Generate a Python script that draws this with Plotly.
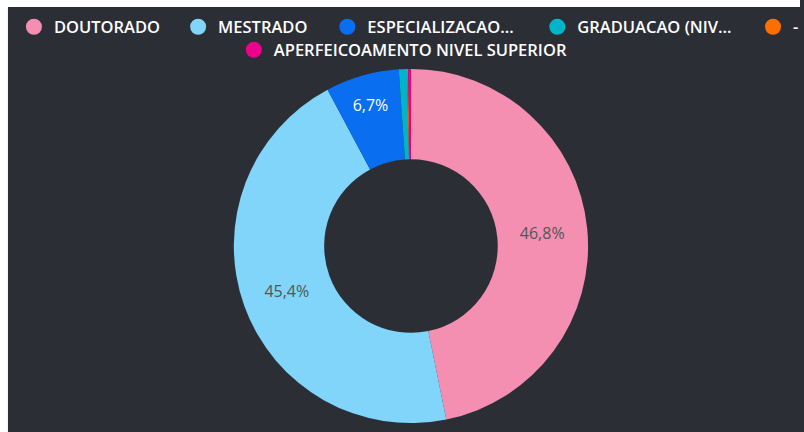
import plotly.graph_objects as go

labels = ["DOUTORADO", "MESTRADO", "ESPECIALIZACAO", "GRADUACAO (NIVEL SUPERIOR)", "-", "APERFEICOAMENTO NIVEL SUPERIOR"]
legend_labels = ["DOUTORADO", "MESTRADO", "ESPECIALIZACAO…", "GRADUACAO (NIV…", "-", "APERFEICOAMENTO NIVEL SUPERIOR"]
values = [46.8, 45.4, 6.7, 0.75, 0.1, 0.25]
colors = ["#F48FB1", "#81D4FA", "#0A6EF0", "#00B5C8", "#FF6F00", "#EC008C"]
show_label = [True, True, True, False, False, False]
label_colors = ["#555555", "#555555", "#FFFFFF", "#FFFFFF", "#FFFFFF", "#FFFFFF"]

BG = "#2C2E36"
W, H = 804, 432

fig = go.Figure()
fig.add_trace(go.Pie(
    labels=labels, values=values, sort=False, direction="clockwise", rotation=0,
    hole=0.49, marker=dict(colors=colors, line=dict(width=0)),
    texttemplate=["%{percent:.1%}" if s else "" for s in show_label],
    textposition="inside", insidetextorientation="horizontal",
    insidetextfont=dict(color=label_colors, size=16, family="Open Sans"),
    showlegend=False,
    domain=dict(x=[235 / W, 591 / W], y=[(H - 424) / H, (H - 68) / H]),
))

# legend positions (text start x in px, row center y in px)
leg_pos = [(54, 27), (219, 27), (369, 27), (580, 27), (797, 27), (275, 50)]
layout_legends = {}
for i, (lab, col, (tx, ty)) in enumerate(zip(legend_labels, colors, leg_pos)):
    name = "legend" if i == 0 else f"legend{i + 1}"
    fig.add_trace(go.Scatter(
        x=[None], y=[None], mode="markers", name=lab,
        marker=dict(symbol="circle", size=16, color=col),
        legend=name, showlegend=True,
    ))
    layout_legends[name] = dict(
        x=(tx - 40) / W, y=(H - ty) / H, xanchor="left", yanchor="middle",
        orientation="h", bgcolor="rgba(0,0,0,0)", borderwidth=0,
        font=dict(color="#FFFFFF", size=16.5, family="Open Sans", weight=600),
    )

fig.update_layout(
    width=W, height=H,
    margin=dict(l=0, r=0, t=0, b=0),
    paper_bgcolor=BG, plot_bgcolor=BG,
    separators=",.",
    xaxis=dict(visible=False, range=[0, 1]),
    yaxis=dict(visible=False, range=[0, 1]),
    shapes=[
        dict(type="rect", xref="paper", yref="paper", x0=0, x1=8 / W, y0=0, y1=1,
             fillcolor="#FFFFFF", line=dict(width=0), layer="below"),
        dict(type="rect", xref="paper", yref="paper", x0=0, x1=1, y0=(H - 7) / H, y1=1,
             fillcolor="#FFFFFF", line=dict(width=0), layer="below"),
    ],
    **layout_legends,
)

fig.write_html("out.html")
